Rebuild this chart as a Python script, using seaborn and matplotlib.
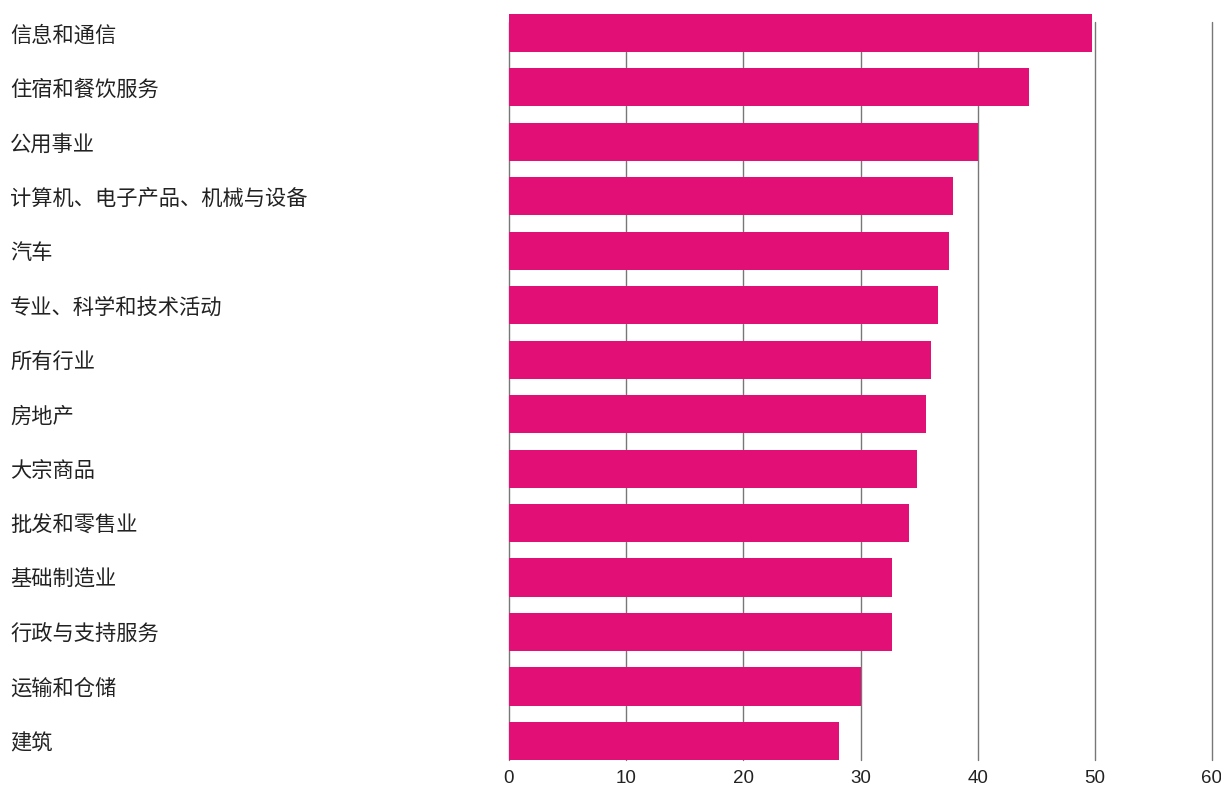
import pandas as pd
import matplotlib.pyplot as plt
import seaborn as sns

# ===============================
# Données
# ===============================
industries = [
    "信息和通信", "住宿和餐饮服务", "公用事业", "计算机、电子产品、机械与设备",
    "汽车", "专业、科学和技术活动", "所有行业", "房地产", "大宗商品",
    "批发和零售业", "基础制造业", "行政与支持服务", "运输和仓储", "建筑",
]
values = [49.8, 44.4, 40.0, 37.9, 37.55, 36.6, 36.0, 35.6, 34.8,
          34.1, 32.7, 32.7, 30.0, 28.2]
x_ticks = [0, 10, 20, 30, 40, 50, 60]

df = pd.DataFrame({"industry": industries, "value": values})

# ===============================
# Style
# ===============================
sns.set_style("white")
plt.rcParams["font.family"] = ["Noto Sans CJK SC", "DejaVu Sans"]

W, H = 1221, 787
fig = plt.figure(figsize=(W / 100, H / 100), dpi=100)
ax = fig.add_axes([509 / W, 1 - 760 / H, (1212 - 509) / W, (760 - 22) / H])

sns.barplot(data=df, x="value", y="industry", orient="h",
            color="#E20F77", saturation=1, width=0.70, ax=ax, zorder=3)
for p in ax.patches:
    p.set_clip_on(False)
    p.set_edgecolor("none")

ax.set_xlim(0, 60)
ax.set_ylim(13.35, -0.2)
ax.set_xticks(x_ticks)
ax.set_xticklabels([str(t) for t in x_ticks], fontsize=13.5, color="#222222",
                   family=["Liberation Sans", "DejaVu Sans"])

ax.xaxis.grid(True, color="#777777", linewidth=1.0, zorder=0)
ax.set_axisbelow(True)
for line in ax.get_xgridlines():
    line.set_clip_on(False)
for s in ax.spines.values():
    s.set_visible(False)

ax.tick_params(axis="x", length=0, pad=7.5)
ax.tick_params(axis="y", length=0, pad=(509 - 10) * 0.72, labelsize=15.3,
               labelcolor="#222222")
for lab in ax.get_yticklabels():
    lab.set_horizontalalignment("left")

ax.set_xlabel("")
ax.set_ylabel("")

plt.savefig("out.png", dpi=100)
plt.close()
